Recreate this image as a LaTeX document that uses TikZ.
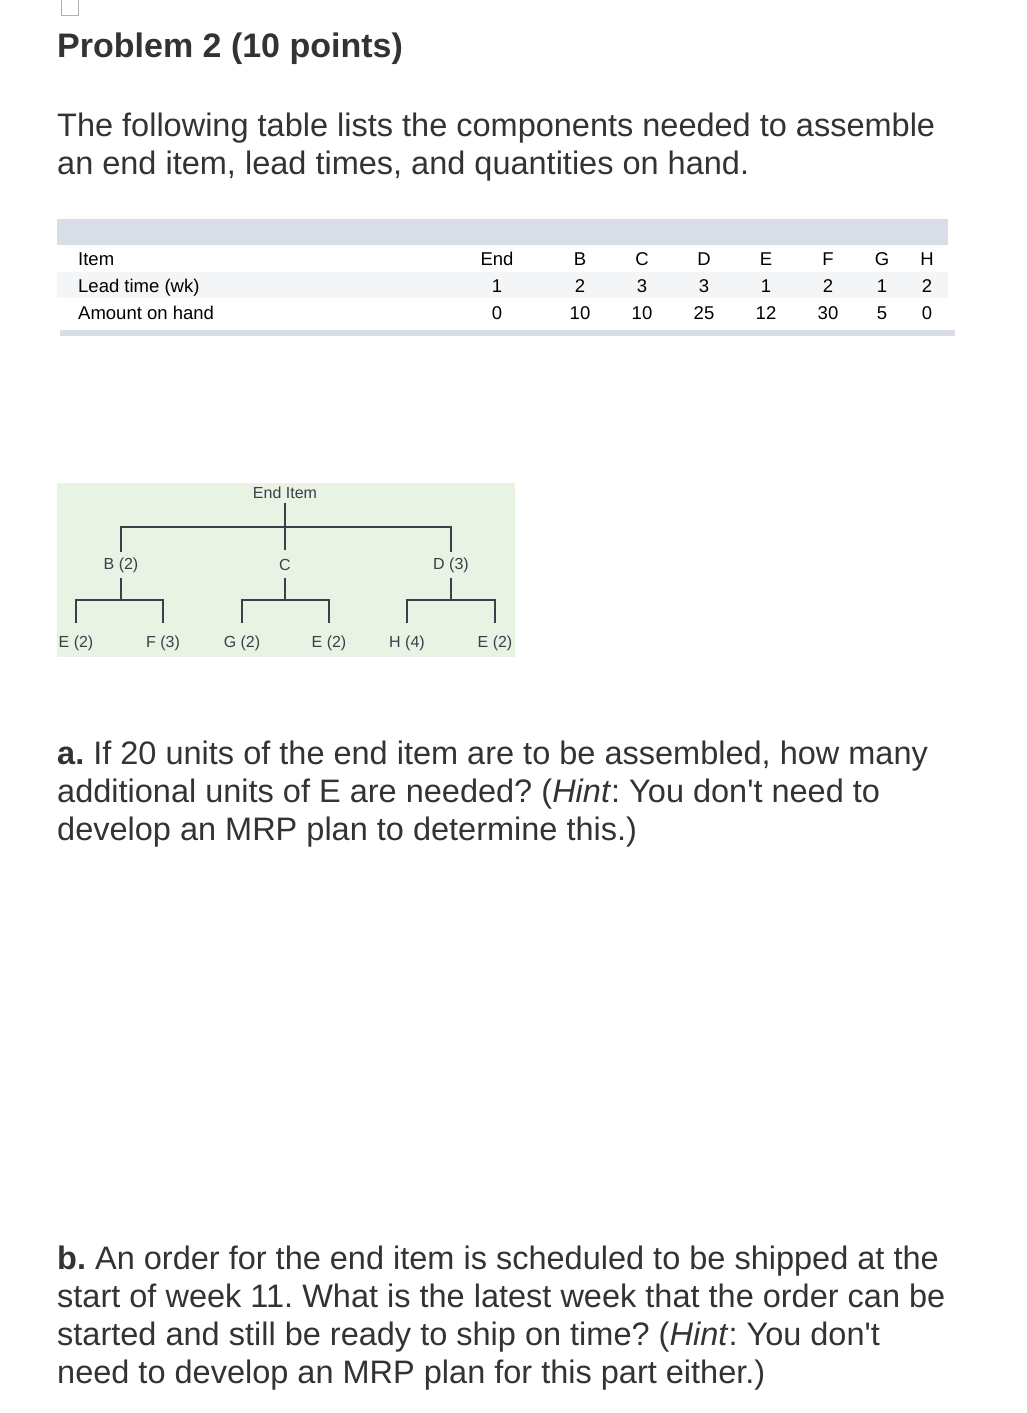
\documentclass[tikz,border=0pt]{standalone}
\usepackage{fontspec}
\setmainfont{Liberation Sans}
\frenchspacing
\definecolor{txt}{HTML}{333333}
\definecolor{band}{HTML}{D9DDE8}
\definecolor{rowg}{HTML}{F4F5F7}
\definecolor{treebg}{HTML}{E8F3E4}
\definecolor{treetx}{HTML}{3A3F4A}
\tikzset{
  body/.style={anchor=base west,inner sep=0pt,text=txt,font=\fontsize{32.5}{38}\selectfont,align=left},
  cell/.style={anchor=base,inner sep=0pt,font=\fontsize{18.5}{20}\selectfont,text=black},
  tl/.style={inner sep=0pt,font=\fontsize{16}{18}\selectfont,text=treetx},
  tln/.style={draw=treetx,line width=1.2pt}
}
\begin{document}
\begin{tikzpicture}[x=1pt,y=-1pt]
\useasboundingbox (0,0) rectangle (1027,1413);
\draw[gray!60,line width=1pt] (61,0) rectangle (78,16);
\node[body,font=\fontsize{34}{38}\selectfont\bfseries] (title) at (57,58) {Problem 2 (10 points)};
\node[body] (intro1) at (57,136) {The following table lists the components needed to assemble};
\node[body] (intro2) at (57,174) {an end item, lead times, and quantities on hand.};
% table
\fill[band] (57,219) rectangle (948,245);
\fill[rowg] (57,272) rectangle (948,298);
\fill[band] (60,330) rectangle (955,336);
\node[cell,anchor=base west] (r1) at (78,265) {Item};
\node[cell,anchor=base west] (r2) at (78,292) {Lead time (wk)};
\node[cell,anchor=base west] (r3) at (78,319) {Amount on hand};
\foreach \x/\a/\b/\c [count=\i] in {497/End/1/0,580/B/2/10,642/C/3/10,704/D/3/25,766/E/1/12,828/F/2/30,882/G/1/5,927/H/2/0}{
  \node[cell] (ca\i) at (\x,265) {\a};
  \node[cell] (cb\i) at (\x,292) {\b};
  \node[cell] (cc\i) at (\x,319) {\c};
}
% tree
\fill[treebg] (57,483) rectangle (515,657);
\node[tl] (end) at (285,493) {End Item};
\node[tl] (B) at (121,565) {B (2)};
\node[tl] (C) at (285,565) {C};
\node[tl] (D) at (451,565) {D (3)};
\node[tl] (e1) at (76,643) {E (2)};
\node[tl] (f) at (163,643) {F (3)};
\node[tl] (g) at (242,643) {G (2)};
\node[tl] (e2) at (329,643) {E (2)};
\node[tl] (h) at (407,643) {H (4)};
\node[tl] (e3) at (495,643) {E (2)};
\coordinate (cB) at (121,552);
\coordinate (cD) at (451,552);
\draw[tln] (285,503) -- (285,550);
\draw[tln] (cB) |- (285,527) -| (cD);
\foreach \p/\l/\r in {B/e1/f,C/g/e2,D/h/e3}{
  \draw[tln] (\p.south |- 0,578) -- (\p.south |- 0,600);
  \draw[tln] (\l.north |- 0,623) |- (\p.south |- 0,600) -| (\r.north |- 0,623);
}
% questions
\node[body] (a1) at (57,764) {\textbf{a.} If 20 units of the end item are to be assembled, how many};
\node[body] (a2) at (57,802) {additional units of E are needed? (\textit{Hint}: You don\textquotesingle t need to};
\node[body] (a3) at (57,840) {develop an MRP plan to determine this.)};
\node[body] (b1) at (57,1269) {\textbf{b.} An order for the end item is scheduled to be shipped at the};
\node[body] (b2) at (57,1307) {start of week 11. What is the latest week that the order can be};
\node[body] (b3) at (57,1345) {started and still be ready to ship on time? (\textit{Hint}: You don\textquotesingle t};
\node[body] (b4) at (57,1383) {need to develop an MRP plan for this part either.)};
\end{tikzpicture}
\end{document}
